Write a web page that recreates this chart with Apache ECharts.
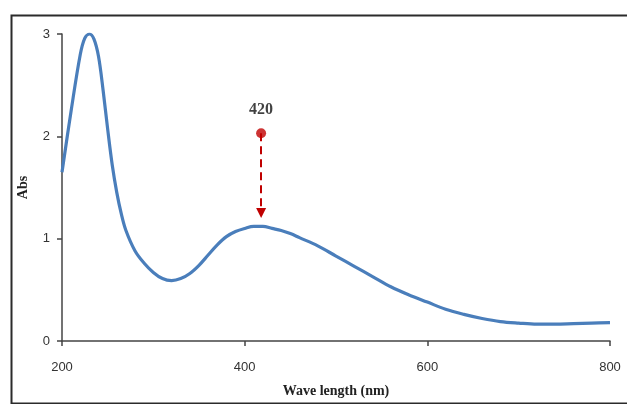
<!DOCTYPE html>
<html>
<head>
<meta charset="utf-8">
<script src="https://cdn.jsdelivr.net/npm/echarts@6/dist/echarts.min.js"></script>
<style>
  html, body { margin: 0; padding: 0; background: #fff; }
  #chart { width: 627px; height: 404px; }
</style>
</head>
<body>
<div id="chart"></div>
<script>
// UV-Vis spectrum
const wavelength = [200, 210, 220, 225, 230, 235, 240, 245, 250, 255, 260, 265, 270, 280, 290, 300, 310, 320, 330, 340, 350, 360, 370, 380, 390, 400, 410, 420, 430, 440, 450, 460, 480, 500, 520, 540, 560, 580, 600, 620, 640, 660, 680, 700, 720, 740, 760, 780, 800];
const absorbance = [1.65, 2.25, 2.80, 2.96, 3.00, 2.95, 2.78, 2.45, 2.07, 1.72, 1.45, 1.24, 1.08, 0.88, 0.76, 0.67, 0.61, 0.59, 0.61, 0.66, 0.74, 0.84, 0.94, 1.02, 1.07, 1.10, 1.12, 1.12, 1.10, 1.08, 1.05, 1.01, 0.93, 0.83, 0.73, 0.63, 0.53, 0.45, 0.38, 0.31, 0.26, 0.22, 0.19, 0.175, 0.165, 0.165, 0.17, 0.175, 0.18];
const xTicks = [200, 400, 600, 800];
const yTicks = [0, 1, 2, 3];

// peak marker: dot, dashed arrow down to the curve
const peakX = 418;
const peakDotY = 2.03;
const peakArrowTip = 1.25;
const peakLabel = '420';

const chart = echarts.init(document.getElementById('chart'));

const points = wavelength.map((w, i) => [w, absorbance[i]]);

chart.setOption({
    animation: false,
    backgroundColor: '#fff',
    grid: { left: 62, right: 17, top: 34, bottom: 63 },
    graphic: [{
        type: 'rect',
        left: 9,
        top: 13,
        shape: { width: 640, height: 388 },
        style: { fill: 'none', stroke: '#2b2b2b', lineWidth: 2 },
        z: 100
    }],
    xAxis: {
        type: 'value',
        min: xTicks[0],
        max: xTicks[xTicks.length - 1],
        interval: 200,
        name: 'Wave length (nm)',
        nameLocation: 'middle',
        nameGap: 43,
        nameTextStyle: { fontFamily: 'Liberation Serif', fontWeight: 'bold', fontSize: 14, color: '#222' },
        axisLine: { lineStyle: { color: '#444', width: 1.5 } },
        axisTick: { show: true, inside: false, length: 5, lineStyle: { color: '#444', width: 1.5 } },
        axisLabel: { margin: 20, fontFamily: 'Liberation Sans', fontSize: 13, color: '#333' },
        splitLine: { show: false }
    },
    yAxis: {
        type: 'value',
        min: yTicks[0],
        max: yTicks[yTicks.length - 1],
        interval: 1,
        name: 'Abs',
        nameLocation: 'middle',
        nameGap: 32,
        nameRotate: 90,
        nameTextStyle: { fontFamily: 'Liberation Serif', fontWeight: 'bold', fontSize: 14, color: '#222' },
        axisLine: { show: true, lineStyle: { color: '#444', width: 1.5 } },
        axisTick: { show: true, inside: false, length: 5, lineStyle: { color: '#444', width: 1.5 } },
        axisLabel: { margin: 12, fontFamily: 'Liberation Sans', fontSize: 13, color: '#333' },
        splitLine: { show: false }
    },
    series: [
        {
            type: 'line',
            data: points,
            smooth: 0.35,
            showSymbol: false,
            lineStyle: { color: '#4a7ebb', width: 3.2 },
            z: 2
        },
        {
            type: 'scatter',
            data: [[peakX, peakDotY]],
            symbol: 'circle',
            symbolSize: 10,
            itemStyle: { color: '#c00000' },
            label: {
                show: true,
                position: 'top',
                distance: 10,
                formatter: peakLabel,
                fontFamily: 'Liberation Serif',
                fontWeight: 'bold',
                fontSize: 16,
                color: '#111'
            },
            markLine: {
                silent: true,
                symbol: ['none', 'triangle'],
                symbolSize: [10, 10],
                label: { show: false },
                lineStyle: { color: '#c00000', type: [8, 5], width: 2 },
                data: [[{ coord: [peakX, peakDotY] }, { coord: [peakX, peakArrowTip] }]]
            },
            z: 3
        }
    ]
});
</script>
</body>
</html>
